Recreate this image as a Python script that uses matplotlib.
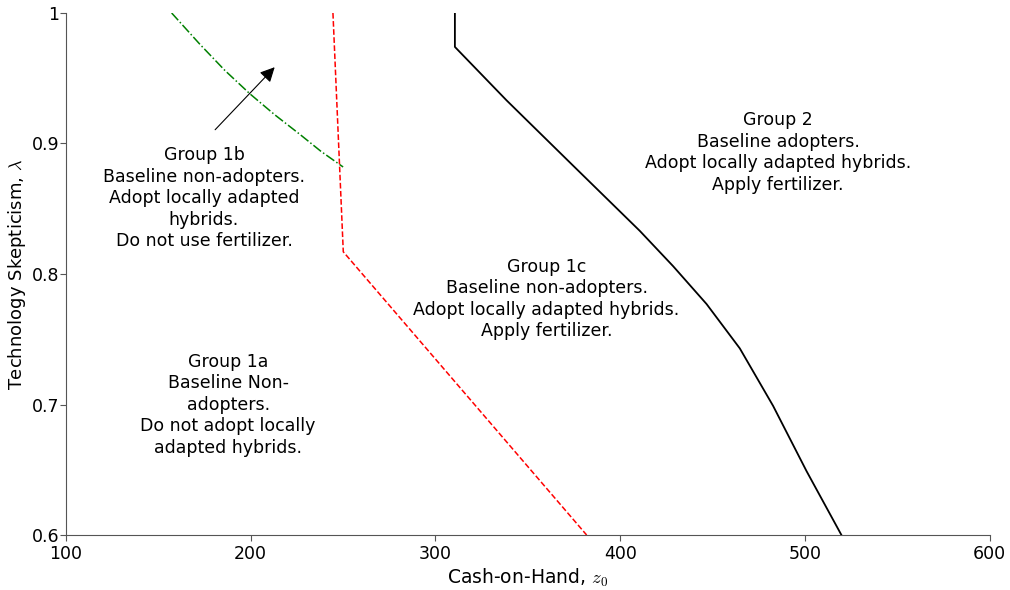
import numpy as np
import matplotlib.pyplot as plt

plt.rcParams['font.family'] = 'DejaVu Sans'
plt.rcParams['mathtext.fontset'] = 'cm'

# boundary between group 1a and 1b (green, dash-dot)
green_x = [157.2, 172.5, 186, 199.6, 213, 226.6, 238, 250]
green_y = [1.0, 0.976, 0.956, 0.938, 0.922, 0.907, 0.894, 0.882]

# boundary between non-adopters and group 1c (red, dashed)
red_x = [244.5, 250.1, 381.8]
red_y = [1.0, 0.817, 0.6]

# boundary of group 2 (black, solid)
black_x = [310.5, 310.5, 338.5, 374.5, 410.6, 428.6, 446.7, 464.7, 482.7, 500.8, 519.7]
black_y = [1.0, 0.974, 0.933, 0.883, 0.833, 0.806, 0.777, 0.743, 0.699, 0.649, 0.6]

labels = {
    "Group 1b\nBaseline non-adopters.\nAdopt locally adapted\nhybrids.\nDo not use fertilizer.": (174.7, 0.858),
    "Group 1c\nBaseline non-adopters.\nAdopt locally adapted hybrids.\nApply fertilizer.": (360.1, 0.781),
    "Group 2\nBaseline adopters.\nAdopt locally adapted hybrids.\nApply fertilizer.": (485.4, 0.893),
    "Group 1a\nBaseline Non-\nadopters.\nDo not adopt locally\nadapted hybrids.": (187.8, 0.700),
}

fig = plt.figure(figsize=(10.1, 5.9), dpi=100)
ax = fig.add_axes([0.0653, 0.0932, 0.9147, 0.8848])

ax.plot(green_x, green_y, color='green', linestyle='-.', linewidth=1.1)
ax.plot(red_x, red_y, color='red', linestyle='--', linewidth=1.1)
ax.plot(black_x, black_y, color='black', linestyle='-', linewidth=1.3)

ax.annotate('', xy=(214.0, 0.960), xytext=(179.7, 0.909),
            arrowprops=dict(arrowstyle='-|>', color='black', lw=0.8, mutation_scale=22))

for txt, (x, y) in labels.items():
    ax.text(x, y, txt, ha='center', va='center', fontsize=12.5, linespacing=1.25)

ax.set_xlim(100, 600)
ax.set_ylim(0.6, 1.0)
ax.set_xticks([100, 200, 300, 400, 500, 600])
ax.set_yticks([0.6, 0.7, 0.8, 0.9, 1.0])
ax.set_yticklabels(['0.6', '0.7', '0.8', '0.9', '1'])
ax.tick_params(labelsize=12.5, length=4, color='#555555')
ax.tick_params(axis='x', pad=3)
ax.tick_params(axis='y', pad=1)
for s in ['top', 'right']:
    ax.spines[s].set_visible(False)
for s in ['left', 'bottom']:
    ax.spines[s].set_color('#555555')
ax.set_xlabel('Cash-on-Hand, $z_0$', fontsize=13.5, labelpad=3)
ax.set_ylabel('Technology Skepticism, $\\lambda$', fontsize=13)
ax.yaxis.set_label_coords(-0.041, 0.5)

plt.savefig('out.png', dpi=100)
